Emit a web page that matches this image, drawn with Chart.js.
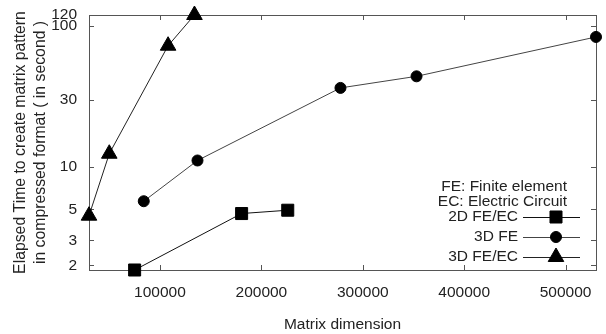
<!DOCTYPE html>
<html>
<head>
<meta charset="utf-8">
<script src="https://cdn.jsdelivr.net/npm/chart.js@4/dist/chart.umd.min.js"></script>
<style>
html, body { margin: 0; padding: 0; background: #fff; }
</style>
</head>
<body>
<canvas id="elapsedChart" width="606" height="334"></canvas>
<script>
// values
const fe2dX = [75000, 180500, 226000];
const fe2dY = [1.85, 4.66, 4.92];
const fe3dX = [84000, 137000, 278000, 353000, 530000];
const fe3dY = [5.7, 11.1, 36.4, 44.0, 83.8];
const feec3dX = [30000, 50000, 108000, 134000];
const feec3dY = [4.5, 12.4, 72.6, 120];

const seriesNames = ["2D FE/EC", "3D FE", "3D FE/EC"];
const xTicks = [100000, 200000, 300000, 400000, 500000];
const yTicks = [2, 3, 5, 10, 30, 100, 120];
const legendNotes = ["FE: Finite element", "EC: Electric Circuit"];

const FONT = "'Liberation Sans', Arial, sans-serif";
const TEXT = "#222";
const AXIS = "#555";

function pts(xs, ys) {
    return xs.map((x, i) => ({x: x, y: ys[i]}));
}

function makeSet(label, xs, ys, style, radius, lineColor) {
    return {
        label: label,
        data: pts(xs, ys),
        borderColor: lineColor,
        borderWidth: 1,
        backgroundColor: "#000",
        pointStyle: style,
        pointRadius: radius,
        pointBorderWidth: 1,
        pointBorderColor: "#000",
        pointBackgroundColor: "#000",
        clip: false,
        tension: 0
    };
}

// gnuplot-ish frame with inward ticks on all four sides
const framePlugin = {
    id: "frame",
    beforeDatasetsDraw(chart) {
        const ctx = chart.ctx;
        const a = chart.chartArea;
        const xs = chart.scales.x, ys = chart.scales.y;
        const len = 5;
        ctx.save();
        ctx.strokeStyle = AXIS;
        ctx.lineWidth = 1;
        ctx.strokeRect(a.left + 0.5, a.top + 0.5, a.right - a.left, a.bottom - a.top);
        ctx.beginPath();
        xTicks.forEach(v => {
            const px = Math.round(xs.getPixelForValue(v)) + 0.5;
            ctx.moveTo(px, a.bottom); ctx.lineTo(px, a.bottom - len);
            ctx.moveTo(px, a.top); ctx.lineTo(px, a.top + len);
        });
        yTicks.forEach(v => {
            const py = Math.round(ys.getPixelForValue(v)) + 0.5;
            ctx.moveTo(a.left, py); ctx.lineTo(a.left + len, py);
            ctx.moveTo(a.right, py); ctx.lineTo(a.right - len, py);
        });
        ctx.stroke();
        ctx.restore();
    }
};

// key box in the lower right, like the original
const keyPlugin = {
    id: "key",
    afterDatasetsDraw(chart) {
        const ctx = chart.ctx;
        ctx.save();
        ctx.font = "15.5px " + FONT;
        ctx.fillStyle = TEXT;
        ctx.textAlign = "right";
        ctx.textBaseline = "middle";
        ctx.fillText(legendNotes[0], 567, 187);
        ctx.fillText(legendNotes[1], 567, 202);
        chart.data.datasets.forEach((ds, i) => {
            const y = 217 + i * 20;
            ctx.fillStyle = TEXT;
            ctx.fillText(ds.label, 518, y);
            ctx.strokeStyle = ds.borderColor;
            ctx.lineWidth = 1;
            ctx.beginPath();
            ctx.moveTo(523, y + 0.5);
            ctx.lineTo(580, y + 0.5);
            ctx.stroke();
            ctx.fillStyle = "#000";
            ctx.strokeStyle = "#000";
            Chart.helpers.drawPoint(ctx, {pointStyle: ds.pointStyle, radius: ds.pointRadius, rotation: 0, borderWidth: 1}, 556, y);
        });
        ctx.restore();
    }
};

new Chart(document.getElementById("elapsedChart"), {
    type: "line",
    data: {
        datasets: [
            makeSet(seriesNames[0], fe2dX, fe2dY, "rect", 8.5, "#111"),
            makeSet(seriesNames[1], fe3dX, fe3dY, "circle", 5.5, "#444"),
            makeSet(seriesNames[2], feec3dX, feec3dY, "triangle", 9, "#222")
        ]
    },
    options: {
        responsive: false,
        animation: false,
        devicePixelRatio: 1,
        layout: {padding: {top: 15, right: 7, left: 0, bottom: 0}},
        plugins: {
            legend: {display: false},
            tooltip: {enabled: false}
        },
        scales: {
            x: {
                type: "linear",
                position: "bottom",
                min: 30000,
                max: 530000,
                grid: {display: false, drawTicks: false},
                border: {display: false},
                afterBuildTicks: (s) => { s.ticks = xTicks.map(v => ({value: v})); },
                afterFit: (s) => { s.height = 64; s.paddingLeft = 0; s.paddingRight = 0; },
                ticks: {
                    autoSkip: false,
                    maxRotation: 0,
                    padding: 13,
                    color: TEXT,
                    font: {family: FONT, size: 15.5},
                    callback: (v) => String(v)
                },
                title: {
                    display: true,
                    text: "Matrix dimension",
                    color: TEXT,
                    font: {family: FONT, size: 15.5},
                    padding: {top: 11, bottom: 0}
                }
            },
            y: {
                type: "logarithmic",
                min: 1.85,
                max: 120,
                grid: {display: false, drawTicks: false},
                border: {display: false},
                afterBuildTicks: (s) => { s.ticks = yTicks.map(v => ({value: v})); },
                afterFit: (s) => { s.width = 89; s.paddingTop = 0; s.paddingBottom = 0; },
                ticks: {
                    autoSkip: false,
                    padding: 12,
                    color: TEXT,
                    font: {family: FONT, size: 15.5},
                    callback: (v) => String(v)
                },
                title: {
                    display: true,
                    text: ["Elapsed Time to create matrix pattern", "in compressed format ( in second )"],
                    color: TEXT,
                    font: {family: FONT, size: 15.8, lineHeight: 1.3},
                    padding: {top: 10, bottom: 0}
                }
            }
        }
    },
    plugins: [framePlugin, keyPlugin]
});
</script>
</body>
</html>
